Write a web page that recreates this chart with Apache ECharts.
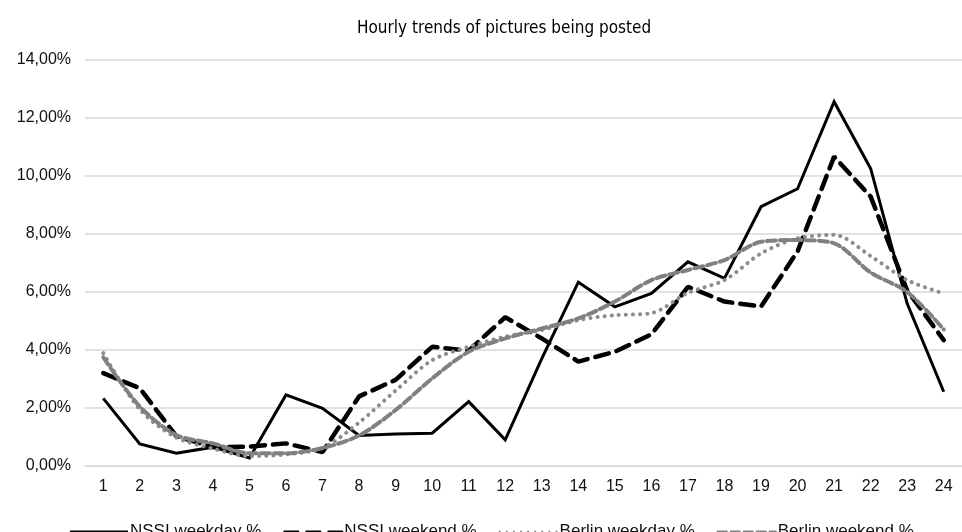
<!DOCTYPE html>
<html>
<head>
<meta charset="utf-8">
<script src="https://cdn.jsdelivr.net/npm/echarts@6/dist/echarts.min.js"></script>
<style>
html,body{margin:0;padding:0;background:#fff;}
#chart{width:962px;height:532px;}
</style>
</head>
<body>
<div id="chart"></div>
<script>
const hours = ['1','2','3','4','5','6','7','8','9','10','11','12','13','14','15','16','17','18','19','20','21','22','23','24'];
const nssiWeekday = [2.33,0.76,0.44,0.65,0.28,2.45,1.99,1.05,1.10,1.13,2.22,0.90,3.70,6.34,5.49,5.95,7.04,6.47,8.94,9.56,12.56,10.26,5.60,2.56];
const nssiWeekend = [3.20,2.68,1.03,0.65,0.67,0.78,0.48,2.40,2.97,4.11,3.98,5.13,4.40,3.60,3.94,4.54,6.18,5.67,5.50,7.40,10.67,9.29,6.05,4.34];
const berlinWeekday = [3.89,1.95,0.98,0.60,0.34,0.40,0.62,1.50,2.60,3.65,4.11,4.46,4.69,5.03,5.20,5.27,5.97,6.41,7.33,7.85,7.97,7.24,6.41,5.95];
const berlinWeekend = [3.75,2.05,1.07,0.78,0.44,0.44,0.62,1.05,1.93,3.02,3.94,4.40,4.74,5.09,5.67,6.41,6.76,7.10,7.73,7.79,7.68,6.67,6.00,4.71];
const yTicks = {min:0, max:14, interval:2};
const seriesNames = ['NSSI weekday %','NSSI weekend %','Berlin weekday %','Berlin weekend %'];

const sans = "'Liberation Sans', Arial, sans-serif";
const chart = echarts.init(document.getElementById('chart'));
chart.setOption({
  animation:false,
  title:{
    text:'Hourly trends of pictures being posted',
    left:352, top:15,
    textStyle:{fontFamily:"'Liberation Sans Narrow', 'DejaVu Sans Condensed', 'Liberation Sans', sans-serif", fontSize:17, fontWeight:'normal', color:'#000'}
  },
  legend:{
    data:seriesNames,
    left:64, top:518,
    itemWidth:58, itemHeight:14, itemGap:22,
    itemStyle:{opacity:0},
    textStyle:{fontFamily:sans, fontSize:17, color:'#111', padding:[0,0,0,-3]}
  },
  grid:{left:85, right:-10, top:60, bottom:66},
  xAxis:{
    type:'category', data:hours, boundaryGap:true,
    axisLine:{show:true, lineStyle:{color:'#d9d9d9', width:1.5}},
    axisTick:{show:false},
    axisLabel:{margin:13, fontFamily:sans, fontSize:16, color:'#111'}
  },
  yAxis:{
    type:'value', min:yTicks.min, max:yTicks.max, interval:yTicks.interval,
    axisLine:{show:false}, axisTick:{show:false},
    splitLine:{lineStyle:{color:'#d9d9d9', width:1.5}},
    axisLabel:{margin:14, fontFamily:sans, fontSize:16, color:'#111',
      formatter:v => v.toFixed(2).replace('.', ',') + '%'}
  },
  series:[
    {name:seriesNames[0], type:'line', data:nssiWeekday, symbol:'none', smooth:false,
     itemStyle:{color:'#000'}, lineStyle:{color:'#000', width:3, join:'miter'}},
    {name:seriesNames[1], type:'line', data:nssiWeekend, symbol:'none',
     itemStyle:{color:'#000'}, lineStyle:{color:'#000', width:4.5, type:[14,8], cap:'round'}},
    {name:seriesNames[2], type:'line', data:berlinWeekday, symbol:'none', smooth:0.3,
     itemStyle:{color:'#8c8c8c'}, lineStyle:{color:'#8c8c8c', width:4, type:[0.1,7], cap:'round'}},
    {name:seriesNames[3], type:'line', data:berlinWeekend, symbol:'none', smooth:0.3,
     itemStyle:{color:'#808080'}, lineStyle:{color:'#808080', width:4, type:[9,4], cap:'round'}}
  ]
});
</script>
</body>
</html>
